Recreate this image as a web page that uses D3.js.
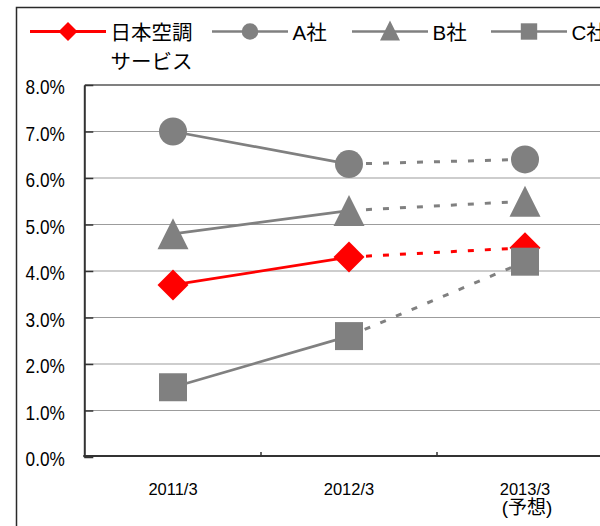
<!DOCTYPE html>
<html><head><meta charset="utf-8">
<script src="https://cdn.jsdelivr.net/npm/d3@7/dist/d3.min.js"></script>
<style>
body{margin:0;background:#fff;overflow:hidden;}
svg{display:block;}
text{font-family:"Liberation Sans","Noto Sans CJK JP",sans-serif;fill:#000;}
</style>
</head><body>
<svg id="chart" width="600" height="526"></svg>
<script>
// ---- data ----
const categories = ["2011/3", "2012/3", "2013/3"];
const categorySubLabels = ["", "", "(予想)"];
const seriesNames = ["日本空調サービス", "A社", "B社", "C社"];
const legendLines = [["日本空調", "サービス"], ["A社"], ["B社"], ["C社"]];
const nihonValues = [3.7, 4.3, 4.5];
const aValues = [7.0, 6.3, 6.4];
const bValues = [4.8, 5.3, 5.5];
const cValues = [1.5, 2.6, 4.2];
const yTicks = [0, 1, 2, 3, 4, 5, 6, 7, 8];
const yTickLabels = ["0.0%", "1.0%", "2.0%", "3.0%", "4.0%", "5.0%", "6.0%", "7.0%", "8.0%"];
const seriesColors = ["#ff0000", "#808080", "#808080", "#808080"];
const seriesSymbols = ["diamond", "circle", "triangle", "square"];

const series = seriesNames.map((n, i) => ({
  name: n,
  values: [nihonValues, aValues, bValues, cValues][i],
  color: seriesColors[i],
  symbol: seriesSymbols[i],
  legend: legendLines[i]
}));

const svg = d3.select("#chart");
const W = 600, H = 526;
const plot = {left: 85, top: 85, right: 613, bottom: 457};

const x = d3.scaleBand().domain(categories).range([plot.left, plot.right]).padding(0);
const y = d3.scaleLinear().domain([0, 8]).range([plot.bottom, plot.top]);

// marker path generator
function markerPath(sym, cx, cy, s) {
  // s = half size
  const p = d3.path();
  if (sym === "circle") {
    p.moveTo(cx + s, cy); p.arc(cx, cy, s, 0, Math.PI * 2);
  } else if (sym === "square") {
    p.rect(cx - s, cy - s, 2 * s, 2 * s);
  } else if (sym === "diamond") {
    p.moveTo(cx, cy - s); p.lineTo(cx + s, cy); p.lineTo(cx, cy + s); p.lineTo(cx - s, cy); p.closePath();
  } else if (sym === "triangle") {
    p.moveTo(cx, cy - s); p.lineTo(cx + s, cy + s); p.lineTo(cx - s, cy + s); p.closePath();
  }
  return p.toString();
}
const plotMarkerSize = {circle: 14, square: 14, diamond: 15.5, triangle: 15.5};
const legendMarkerSize = {circle: 8.3, square: 8.2, diamond: 9.5, triangle: 10};

// outer frame
svg.append("rect").attr("x", 16.5).attr("y", 7.5).attr("width", 800).attr("height", 800)
  .attr("fill", "none").attr("stroke", "#2a2a2a").attr("stroke-width", 1.5);

// gridlines
svg.append("g").selectAll("line").data(yTicks.filter(t => t > 0 && t < 8)).join("line")
  .attr("x1", plot.left).attr("x2", plot.right)
  .attr("y1", d => y(d)).attr("y2", d => y(d))
  .attr("stroke", "#9c9c9c").attr("stroke-width", 1.2);
// plot top border
svg.append("line").attr("x1", plot.left).attr("x2", plot.right)
  .attr("y1", y(8)).attr("y2", y(8)).attr("stroke", "#808080").attr("stroke-width", 2);

// y axis
const yAxis = d3.axisLeft(y).tickValues(yTicks).tickFormat((d, i) => yTickLabels[i]).tickSize(-9).tickSizeOuter(0);
const yg = svg.append("g").attr("transform", `translate(${plot.left - 0.7},0)`).call(yAxis);
yg.select(".domain").attr("stroke", "#333").attr("stroke-width", 2);
yg.selectAll(".tick line").attr("stroke", "#333").attr("stroke-width", 1.5);
const ySx = 0.82;
yg.selectAll(".tick text")
  .attr("font-size", 21).attr("fill", "#000")
  .attr("transform", `scale(${ySx},1)`)
  .attr("x", -19.5 / ySx).attr("dy", 8.5).attr("text-anchor", "end");

// x axis
const xAxis = d3.axisBottom(x).tickSize(0).tickPadding(0);
const xg = svg.append("g").attr("transform", `translate(0,${plot.bottom - 1})`).call(xAxis);
xg.select(".domain").attr("stroke", "#333").attr("stroke-width", 2)
  .attr("d", `M${plot.left - 1.7},0H${plot.right}`);
xg.selectAll(".tick text").attr("font-size", 16.5).attr("fill", "#000")
  .attr("y", 39).attr("dy", 0).attr("x", 0);
// category boundary ticks
svg.append("g").selectAll("line").data(categories.slice(0, -1)).join("line")
  .attr("x1", d => x(d) + x.bandwidth()).attr("x2", d => x(d) + x.bandwidth())
  .attr("y1", plot.bottom - 5).attr("y2", plot.bottom - 1)
  .attr("stroke", "#333").attr("stroke-width", 1.5);
// sub labels
svg.append("g").selectAll("text").data(categories).join("text")
  .attr("x", d => x(d) + x.bandwidth() / 2 + 2)
  .attr("y", 513.5)
  .attr("text-anchor", "middle").attr("font-size", 19)
  .text((d, i) => categorySubLabels[i]);

// series
const cx = c => x(c) + x.bandwidth() / 2;
series.forEach(s => {
  const g = svg.append("g");
  const pts = categories.map((c, i) => [cx(c), y(s.values[i])]);
  // actual (solid)
  g.append("path").attr("d", d3.line()(pts.slice(0, 2)))
    .attr("fill", "none").attr("stroke", s.color).attr("stroke-width", 2.7);
  // forecast (dashed)
  g.append("path").attr("d", d3.line()(pts.slice(1, 3)))
    .attr("fill", "none").attr("stroke", s.color).attr("stroke-width", 3)
    .attr("stroke-dasharray", "6,11");
  g.selectAll("path.m").data(pts).join("path").attr("class", "m")
    .attr("d", d => markerPath(s.symbol, d[0], d[1], plotMarkerSize[s.symbol]))
    .attr("fill", s.color);
});

// legend
const legendX = [30, 212, 352, 491];
const legendY = 31.5;
series.forEach((s, i) => {
  const g = svg.append("g");
  const x0 = legendX[i], len = 76;
  g.append("line").attr("x1", x0).attr("x2", x0 + len).attr("y1", legendY).attr("y2", legendY)
    .attr("stroke", s.color).attr("stroke-width", i === 0 ? 3 : 2.6);
  g.append("path").attr("d", markerPath(s.symbol, x0 + len / 2, legendY - (s.symbol === "triangle" ? 1 : 0), legendMarkerSize[s.symbol]))
    .attr("fill", s.color);
  const t = g.append("text").attr("x", x0 + len + 4.5).attr("y", 40).attr("font-size", 20.5);
  s.legend.forEach((ln, j) => {
    t.append("tspan").attr("x", x0 + len + 4.5).attr("y", 40 + j * 28.5).text(ln);
  });
});
</script>
</body></html>
